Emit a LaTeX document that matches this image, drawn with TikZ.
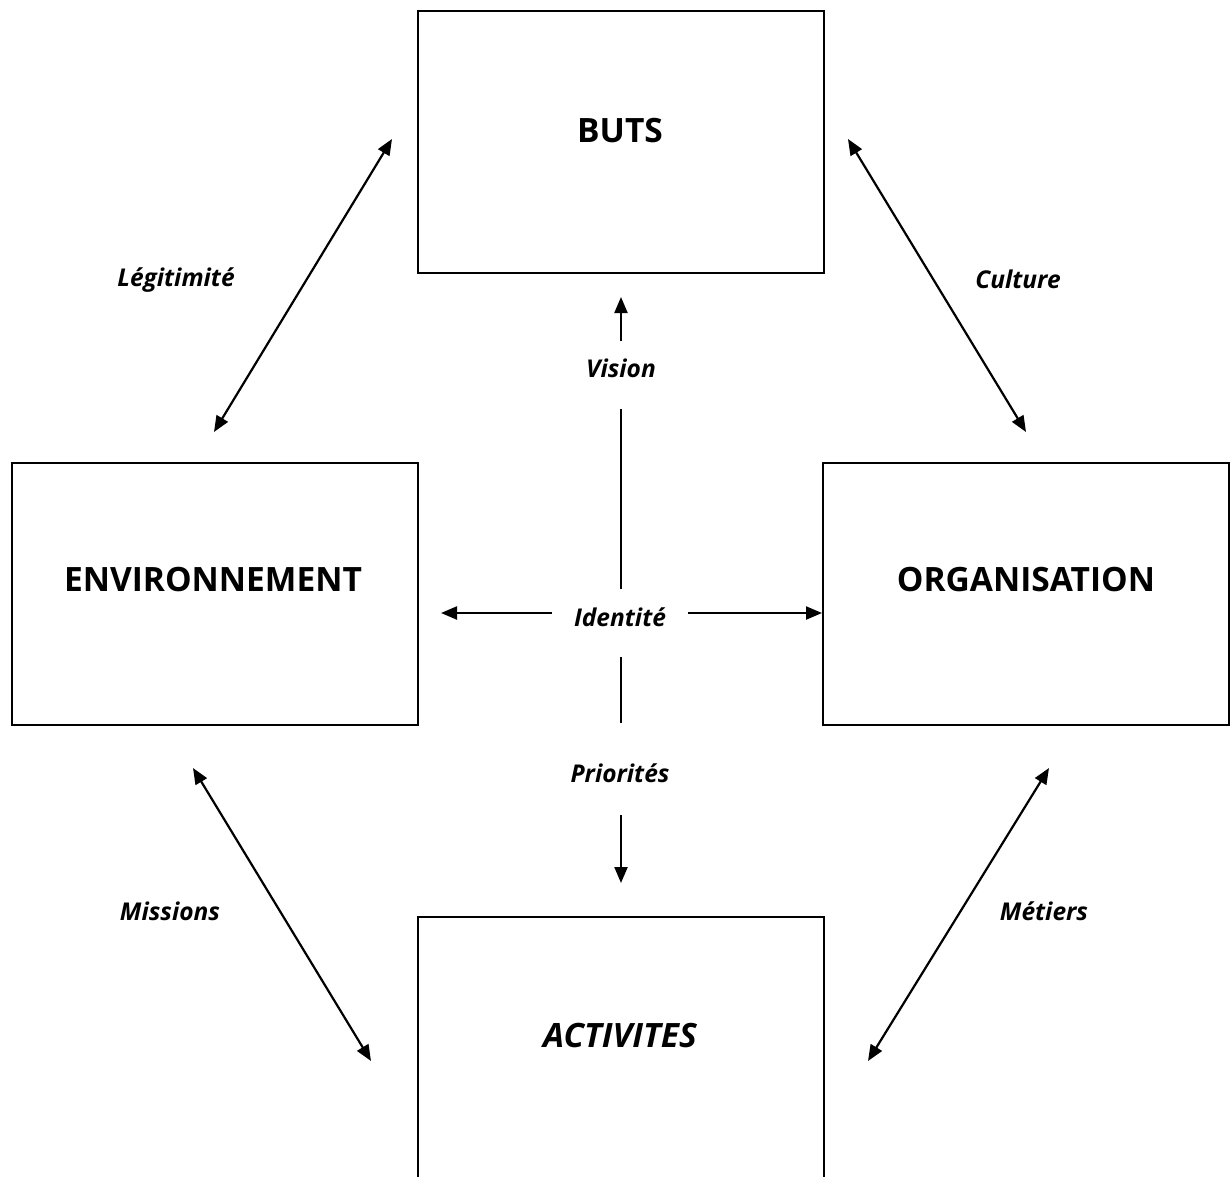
\documentclass[tikz,border=0pt]{standalone}
\usepackage{fontspec}
\setmainfont{Open Sans}
\usetikzlibrary{arrows.meta}
\begin{document}
\begin{tikzpicture}[x=1pt,y=-1pt,
  box/.style={draw,line width=2pt,minimum width=406pt,minimum height=262pt,inner sep=0pt},
  title/.style={font=\fontsize{33.5}{40}\selectfont\bfseries},
  lbl/.style={font=\fontsize{24.5}{29}\selectfont\bfseries\itshape,inner sep=0pt},
  link/.style={line width=2.2pt,-{Triangle[length=16pt,width=13pt]}},
  both/.style={line width=2.2pt,{Triangle[length=16pt,width=13pt]}-{Triangle[length=16pt,width=13pt]}},
  bar/.style={line width=2.2pt}]
\useasboundingbox (0,0) rectangle (1231,1176);
\clip (0,0) rectangle (1231,1176);

% the four boxes
\node[box] (buts) at (620.5,141.5) {};
\node[box] (env)  at (214.5,593.5) {};
\node[box] (org)  at (1026,593.5) {};
\node[box,minimum height=280pt] (act) at (620.5,1057) {};

\node[title] at (620,131) {BUTS};
\node[title] at (213,580) {ENVIRONNEMENT};
\node[title] at (1026,580) {ORGANISATION};
\node[title,font=\fontsize{33.5}{40}\selectfont\bfseries\itshape] at (620,1035) {ACTIVITES};

% diagonal links
\coordinate (lgA) at (392,139);  \coordinate (lgB) at (214,432);
\coordinate (cuA) at (848,139);  \coordinate (cuB) at (1026,432);
\coordinate (miA) at (193,768);  \coordinate (miB) at (371,1061);
\coordinate (meA) at (1049,768); \coordinate (meB) at (868,1061);
\draw[both] (lgB) -- (lgA);
\draw[both] (cuA) -- (cuB);
\draw[both] (miA) -- (miB);
\draw[both] (meB) -- (meA);

\node[lbl] (lg) at (176,280) {Légitimité};
\node[lbl] (cu) at (1018,279) {Culture};
\node[lbl] (mi) at (170,911) {Missions};
\node[lbl] (me) at (1044,911) {Métiers};

% central cross
\node[lbl] (id) at (620,617) {Identité};
\node[lbl] (vi) at (621,368) {Vision};
\node[lbl] (pr) at (620,773) {Priorités};

\coordinate (vTop) at (621,297);
\coordinate (vLow) at (621,341);
\coordinate (vA) at (621,409);
\coordinate (vB) at (621,589);
\draw[link] (vLow) -- (vTop);
\draw[bar] (vA) -- (vB);

\coordinate (pA) at (621,657);
\coordinate (pB) at (621,723);
\coordinate (pC) at (621,815);
\coordinate (pD) at (621,883);
\draw[bar] (pA) -- (pB);
\draw[link] (pC) -- (pD);

\coordinate (iL) at (552,613);
\coordinate (iLtip) at (441,613);
\coordinate (iR) at (688,613);
\draw[link] (iL) -- (iLtip);
\draw[link] (iR) -- (org.west |- iR);
\end{tikzpicture}
\end{document}
